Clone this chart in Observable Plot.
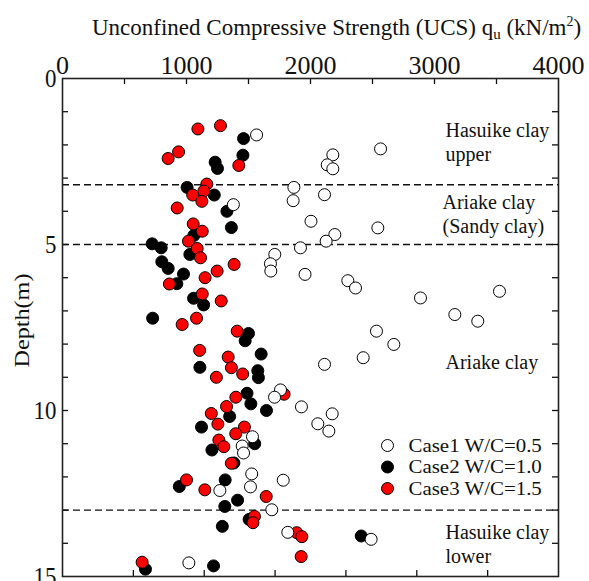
<!DOCTYPE html>
<html><head><meta charset="utf-8">
<script src="https://cdn.jsdelivr.net/npm/d3@7"></script>
<script src="https://cdn.jsdelivr.net/npm/@observablehq/plot@0.6"></script>
<style>
body{margin:0;background:#fff;}
#wrap{position:relative;width:589px;height:581px;font-family:"Liberation Serif","Times New Roman",serif;}
#title{position:absolute;left:92px;top:16px;white-space:nowrap;font-size:23px;line-height:23px;color:#111;}
#title sub{font-size:15px;vertical-align:-4px;line-height:0;}
#title sup{font-size:14px;vertical-align:9px;line-height:0;}
</style></head><body>
<div id="wrap"><div id="title">Unconfined Compressive Strength (UCS) q<sub>u</sub> (kN/m<sup>2</sup>)</div></div>
<script>
// Case1 W/C=0.5 : [qu (kN/m2), depth (m)]
const case1 = [[1565,1.70],[2565,2.12],[2180,2.30],[2135,2.60],[2180,2.72],[1866,3.28],[2113,3.50],[1860,3.68],[1378,3.80],[2004,4.30],[2543,4.50],[2196,4.70],[2126,4.90],[1919,5.10],[1712,5.30],[1677,5.58],[1680,5.80],[1956,5.90],[2301,6.09],[2363,6.31],[3524,6.41],[2887,6.61],[3164,7.11],[3349,7.31],[2532,7.61],[2672,8.01],[2425,8.41],[2113,8.61],[1758,9.38],[1710,9.60],[1927,9.89],[2175,10.10],[2059,10.40],[2148,10.62],[1532,10.79],[1449,11.07],[1460,11.28],[1526,11.91],[1780,12.10],[1516,12.30],[1269,12.41],[1688,12.99],[1817,13.67],[2489,13.88],[1019,14.59]];
// Case2 W/C=1.0
const case2 = [[1460,1.81],[1455,2.31],[1231,2.52],[1250,2.71],[1005,3.28],[1224,3.51],[1326,4.00],[1362,4.49],[1059,4.73],[723,4.98],[796,5.10],[1027,5.30],[801,5.52],[852,5.72],[976,5.89],[922,6.18],[1057,6.62],[1138,6.82],[727,7.22],[1500,7.68],[1473,7.90],[1602,8.30],[1108,8.70],[1575,8.80],[1580,9.01],[1488,9.48],[1519,9.80],[1645,10.00],[1348,10.18],[1121,10.50],[1550,11.00],[1205,11.19],[1382,11.58],[1312,12.09],[942,12.29],[1412,12.70],[1309,12.89],[1505,13.28],[1289,13.49],[2409,13.78],[669,14.78],[1218,14.68]];
// Case3 W/C=1.5
const case3 = [[1092,1.52],[1274,1.42],[852,2.41],[936,2.21],[1422,2.62],[1164,3.18],[1140,3.39],[1050,3.51],[1124,3.70],[925,3.90],[1054,4.38],[1127,4.60],[1016,4.90],[1086,5.12],[1113,5.40],[1384,5.60],[1247,5.80],[1150,6.00],[862,6.19],[1127,6.49],[1280,6.70],[1081,7.22],[965,7.41],[1409,7.61],[1106,8.19],[1336,8.39],[1362,8.71],[1241,9.00],[1453,8.90],[1398,9.60],[1787,9.51],[1323,9.88],[1200,10.09],[1253,10.41],[1467,10.50],[1397,10.70],[1261,10.89],[1301,11.09],[1362,11.59],[1000,12.09],[1148,12.39],[1643,12.59],[1548,13.19],[1536,13.38],[1889,13.68],[1930,13.80],[1925,14.40],[642,14.57]];

const xTickLabels = [0,1000,2000,3000,4000];
const yTickLabels = [0,5,10,15];
const layerBoundaries = [3.2, 5.0, 13.0];
const zoneLabels = ["Hasuike clay\nupper", "Ariake clay\n(Sandy clay)", "Ariake clay", "Hasuike clay\nlower"];
const legendLabels = ["Case1 W/C=0.5", "Case2 W/C=1.0", "Case3 W/C=1.5"];
const legendFills = ["white", "black", "#ff0000"];
const yAxisTitle = "Depth(m)";

const W = 589, H = 581, mL = 62, mR = 31, mT = 78, mB = 5;
const frameW = W - mL - mR, frameH = H - mT - mB;
const topTicks = d3.range(500, 4000, 500);
const bottomTicks = d3.range(1, 7).map(i => i * 4000 / 7);
const sideTicks = d3.range(1, 15);
const ink = "#111";

const zonePos = [[383, 41], [380, 113], [383, 273], [383, 443]];
const legendPos = {dotX: 325, textX: 346, y0: 367, step: 21.5};

const marks = [
  Plot.ruleY(layerBoundaries, {y: d => d, stroke: ink, strokeWidth: 1.3, strokeDasharray: "7,4"}),
  Plot.tickX(topTicks, {x: d => d, stroke: ink, strokeWidth: 1.3, insetBottom: frameH - 6}),
  Plot.tickX(bottomTicks, {x: d => d, stroke: ink, strokeWidth: 1.3, insetTop: frameH - 6}),
  Plot.tickY(sideTicks, {y: d => d, stroke: ink, strokeWidth: 1.3, insetRight: frameW - 6}),
  Plot.tickY(sideTicks, {y: d => d, stroke: ink, strokeWidth: 1.3, insetLeft: frameW - 6}),
  Plot.axisX({anchor: "top", ticks: xTickLabels, tickSize: 0, tickPadding: 5, fontSize: 26, label: null, tickFormat: d => String(d)}),
  Plot.axisY({anchor: "left", ticks: yTickLabels, tickSize: 0, tickPadding: 6, fontSize: 26, label: null, tickFormat: d => String(d)}),
  Plot.text([yAxisTitle], {frameAnchor: "left", text: d => d, rotate: -90, textAnchor: "middle", dx: -40, dy: -7, fontSize: 21, fill: ink}),
  Plot.dot(case2, {x: d => d[0], y: d => d[1], r: 6, fill: "black", stroke: "black", strokeWidth: 1}),
  Plot.dot(case3, {x: d => d[0], y: d => d[1], r: 6, fill: "#ff0000", stroke: "black", strokeWidth: 1}),
  Plot.dot(case1, {x: d => d[0], y: d => d[1], r: 6, fill: "white", stroke: "black", strokeWidth: 1}),
  ...zoneLabels.map((t, i) => Plot.text([t], {frameAnchor: "top-left", text: d => d, dx: zonePos[i][0], dy: zonePos[i][1], textAnchor: "start", lineAnchor: "top", lineHeight: 1.2, fontSize: 20, fill: ink})),
  ...legendLabels.map((t, i) => Plot.dot([t], {frameAnchor: "top-left", dx: legendPos.dotX, dy: legendPos.y0 + i * legendPos.step, r: 6, fill: legendFills[i], stroke: "black", strokeWidth: 1})),
  ...legendLabels.map((t, i) => Plot.text([t], {frameAnchor: "top-left", text: d => d, dx: legendPos.textX, dy: legendPos.y0 + i * legendPos.step, textAnchor: "start", lineAnchor: "middle", fontSize: 19, fill: ink})),
  Plot.frame({stroke: "#222", strokeWidth: 1.6})
];

const chart = Plot.plot({
  width: W, height: H,
  marginLeft: mL, marginRight: mR, marginTop: mT, marginBottom: mB,
  x: {domain: [0, 4000]},
  y: {domain: [0, 15], reverse: true},
  style: {fontFamily: "Liberation Serif, Times New Roman, serif", color: ink, background: "white", overflow: "visible"},
  marks
});
document.getElementById("wrap").appendChild(chart);

// match the glyph proportions of the source figure along the text direction
function widen(el, k) {
  const parts = el.querySelectorAll("tspan");
  (parts.length ? Array.from(parts) : [el]).forEach(p => {
    const len = p.getComputedTextLength();
    if (len > 0) { p.setAttribute("textLength", (len * k).toFixed(2)); p.setAttribute("lengthAdjust", "spacingAndGlyphs"); }
  });
}
chart.querySelectorAll("text").forEach(el => {
  const t = el.textContent;
  if (legendLabels.includes(t)) widen(el, 1.1);
  else if (t === yAxisTitle) widen(el, 1.15);
  else if (el.closest('g[aria-label="y-axis tick label"]')) widen(el, 0.88);
});
</script>
</body></html>
